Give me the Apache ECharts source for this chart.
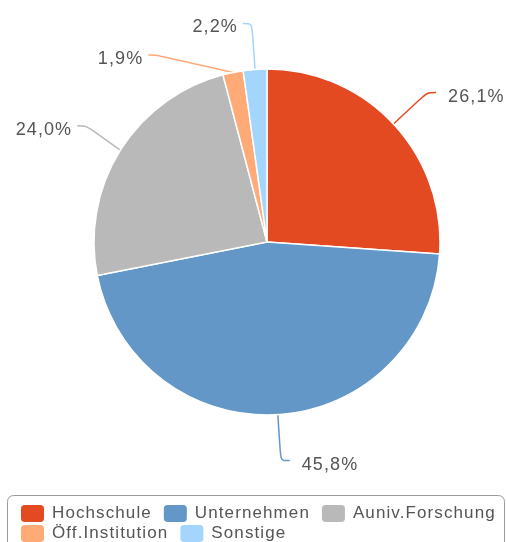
<!DOCTYPE html>
<html>
<head>
<meta charset="utf-8">
<script src="https://cdn.jsdelivr.net/npm/echarts@6/dist/echarts.min.js"></script>
<style>
  html, body { margin: 0; padding: 0; background: #fff; }
  #chart { width: 506px; height: 542px; }
</style>
</head>
<body>
<div id="chart"></div>
<script>
const categories = ['Hochschule', 'Unternehmen', 'Auniv.Forschung', 'Öff.Institution', 'Sonstige'];
const shares = [26.1, 45.8, 24.0, 1.9, 2.2];
const colors = ['#E34A22', '#6397C8', '#B9B9B9', '#FFAA77', '#A4D6FD'];

// the original text is tracked a little wider than plain Arial:
// apply the spacing whenever a canvas font is set (drawing and measuring)
const SPACING = '1.1px';
const fontProp = Object.getOwnPropertyDescriptor(CanvasRenderingContext2D.prototype, 'font');
Object.defineProperty(CanvasRenderingContext2D.prototype, 'font', {
  get() { return fontProp.get.call(this); },
  set(v) { fontProp.set.call(this, v); this.letterSpacing = SPACING; },
  configurable: true
});

const chart = echarts.init(document.getElementById('chart'));

// legend rows: wide horizontal gaps but tight rows, so two single-row legends
const legendRow = (names, top) => ({
  data: names,
  left: 19,
  top: top,
  padding: 0,
  itemWidth: 25,
  itemHeight: 19,
  itemGap: 10,
  icon: 'roundRect',
  textStyle: {
    fontFamily: 'Liberation Sans',
    fontSize: 17,
    color: '#555',
    padding: [0, 0, 0, 2]
  }
});

const option = {
  backgroundColor: '#fff',
  animation: false,
  color: colors,
  legend: [
    legendRow(categories.slice(0, 3), 503),
    legendRow(categories.slice(3), 523)
  ],
  graphic: [{
    type: 'rect',
    silent: true,
    shape: { x: 7.5, y: 495.5, width: 497, height: 70, r: 6 },
    style: { fill: 'none', stroke: '#9a9a9a', lineWidth: 1 }
  }],
  series: [{
    type: 'pie',
    center: [267, 242],
    radius: 173,
    startAngle: 90,
    clockwise: true,
    data: categories.map((name, i) => ({ name, value: shares[i] })),
    itemStyle: { borderColor: '#fff', borderWidth: 1.5 },
    label: {
      // a thin empty first line drops the number a few px below the line end
      formatter: p => '{gap| }\n{v|' + p.value.toFixed(1).replace('.', ',') + '%}',
      overflow: 'none',
      rich: {
        gap: { fontSize: 8, lineHeight: 8 },
        v: { fontFamily: 'Liberation Sans', fontSize: 18, lineHeight: 23, color: '#555', padding: [0, 0, 0, 7] }
      }
    },
    labelLine: {
      length: 46,
      length2: 9,
      smooth: true,
      lineStyle: { width: 1.5 }
    }
  }]
};

chart.setOption(option);
</script>
</body>
</html>
